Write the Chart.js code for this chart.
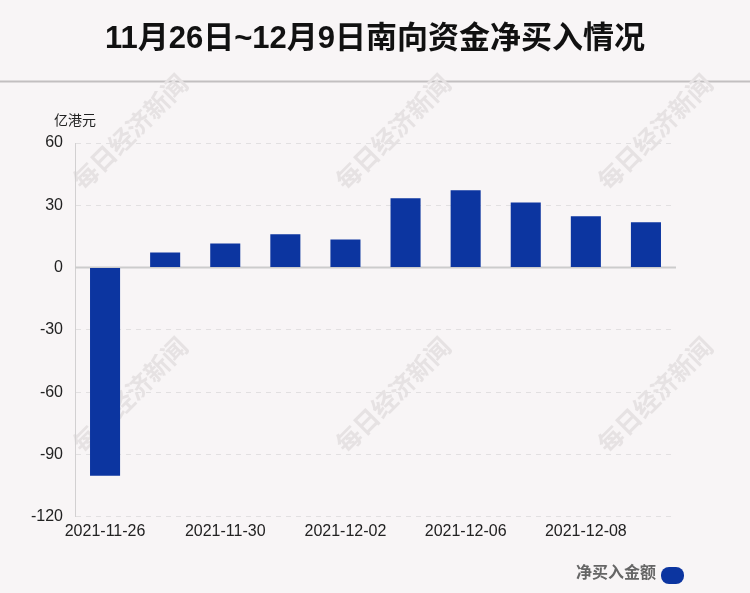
<!DOCTYPE html>
<html>
<head>
<meta charset="utf-8">
<script src="https://cdn.jsdelivr.net/npm/chart.js@4.4.1/dist/chart.umd.min.js"></script>
<style>
  html, body { margin: 0; padding: 0; background: #f8f5f6; }
  #wrap { width: 750px; height: 593px; }
</style>
</head>
<body>
<div id="wrap"><canvas id="c" width="750" height="593"></canvas></div>
<script>
// 数据
const dates = ['2021-11-26', '2021-11-29', '2021-11-30', '2021-12-01', '2021-12-02',
               '2021-12-03', '2021-12-06', '2021-12-07', '2021-12-08', '2021-12-09'];
const netBuy = [-100.2, 7.3, 11.6, 16.0, 13.5, 33.4, 37.3, 31.4, 24.7, 21.8];
const yTicks = [60, 30, 0, -30, -60, -90, -120];

const titleText = '11月26日~12月9日南向资金净买入情况';
const unitText = '亿港元';
const seriesName = '净买入金额';
const barColor = '#0c35a0';
const cjk = '"Liberation Sans", "Noto Sans CJK SC", sans-serif';

// 背景、标题、分隔线、水印、单位、图例
const decor = {
    id: 'decor',
    beforeDraw(chart) {
        const ctx = chart.ctx;
        ctx.save();
        ctx.fillStyle = '#f8f5f6';
        ctx.fillRect(0, 0, chart.width, chart.height);

        ctx.fillStyle = '#111';
        ctx.font = 'bold 31px ' + cjk;
        ctx.textAlign = 'center';
        ctx.textBaseline = 'middle';
        ctx.fillText(titleText, 375, 39);

        ctx.strokeStyle = '#c2bfc0';
        ctx.lineWidth = 2;
        ctx.beginPath();
        ctx.moveTo(0, 81.5);
        ctx.lineTo(750, 81.5);
        ctx.stroke();

        // 水印
        ctx.fillStyle = '#e6e2e3';
        ctx.font = 'bold 25px "Noto Sans CJK SC", sans-serif';
        [[130, 132], [393, 132], [655, 132], [130, 395], [393, 395], [655, 395]].forEach(p => {
            ctx.save();
            ctx.translate(p[0], p[1]);
            ctx.rotate(-Math.PI / 4);
            ctx.fillText('每日经济新闻', 0, 0);
            ctx.restore();
        });

        ctx.fillStyle = '#222';
        ctx.font = '14px ' + cjk;
        ctx.textAlign = 'left';
        ctx.fillText(unitText, 54, 121);
        ctx.restore();
    },
    beforeDatasetsDraw(chart) {
        const ctx = chart.ctx;
        const y = chart.scales.y.getPixelForValue(0);
        ctx.save();
        ctx.strokeStyle = '#cccccc';
        ctx.lineWidth = 2;
        ctx.beginPath();
        ctx.moveTo(chart.chartArea.left, y);
        ctx.lineTo(chart.chartArea.right, y);
        ctx.stroke();
        ctx.restore();
    },
    afterDraw(chart) {
        const ctx = chart.ctx;
        const ds = chart.data.datasets[0];
        ctx.save();
        ctx.fillStyle = '#666';
        ctx.font = 'bold 16px ' + cjk;
        ctx.textAlign = 'right';
        ctx.textBaseline = 'middle';
        ctx.fillText(ds.label, 656, 574);
        ctx.fillStyle = ds.backgroundColor;
        ctx.beginPath();
        ctx.roundRect(661, 567, 23, 17, 8);
        ctx.fill();
        ctx.restore();
    }
};

new Chart(document.getElementById('c'), {
    type: 'bar',
    data: {
        labels: dates,
        datasets: [{
            label: seriesName,
            data: netBuy,
            backgroundColor: barColor,
            barPercentage: 0.5,
            categoryPercentage: 1.0
        }]
    },
    options: {
        responsive: false,
        animation: false,
        layout: { padding: { top: 143, right: 74, left: 0, bottom: 55 } },
        plugins: {
            legend: { display: false },
            title: { display: false },
            tooltip: { enabled: false }
        },
        scales: {
            x: {
                grid: { display: false },
                border: { display: false },
                ticks: {
                    autoSkip: false,
                    maxRotation: 0,
                    padding: -3,
                    color: '#222',
                    font: { size: 16, family: cjk },
                    callback: function(v, i) { return i % 2 === 0 ? this.getLabelForValue(v) : ''; }
                }
            },
            y: {
                min: -120,
                max: 60,
                afterFit(scale) { scale.width = 75; },
                afterBuildTicks(scale) { scale.ticks = yTicks.map(v => ({ value: v })); },
                grid: {
                    drawTicks: false,
                    color: ctx => ctx.tick && ctx.tick.value === 0 ? 'rgba(0,0,0,0)' : '#e2e0e1',
                    lineWidth: 1
                },
                border: { display: true, color: '#d2d0d1', width: 1, dash: [5, 5] },
                ticks: {
                    padding: 12,
                    color: '#222',
                    font: { size: 16, family: cjk }
                }
            }
        }
    },
    plugins: [decor]
});
</script>
</body>
</html>
